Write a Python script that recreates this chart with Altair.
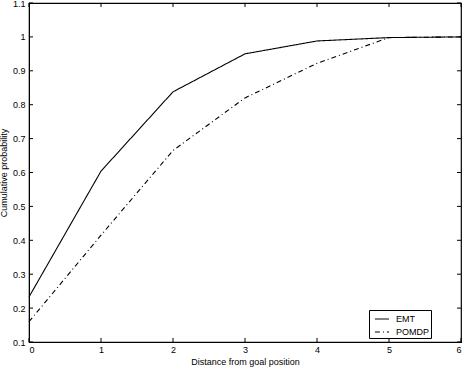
import altair as alt
import pandas as pd

distance = [0, 1, 2, 3, 4, 5, 6]
emt = [0.233, 0.604, 0.838, 0.95, 0.988, 0.998, 1.0]
pomdp = [0.16, 0.415, 0.665, 0.82, 0.922, 0.998, 1.0]
series_names = ["EMT", "POMDP"]
x_ticks = [0, 1, 2, 3, 4, 5, 6]
y_ticks = [0.1, 0.2, 0.3, 0.4, 0.5, 0.6, 0.7, 0.8, 0.9, 1.0, 1.1]

rows = []
for d, a, b in zip(distance, emt, pomdp):
    rows.append({"x": d, "y": a, "series": series_names[0]})
    rows.append({"x": d, "y": b, "series": series_names[1]})
df = pd.DataFrame(rows)

FONT = "Liberation Sans"
W, H = 432, 339

xscale = alt.Scale(domain=[0, 6], nice=False, zero=False)
yscale = alt.Scale(domain=[0.1, 1.1], nice=False, zero=False)

xaxis = alt.Axis(title="Distance from goal position", values=x_ticks,
                 tickSize=0, labelPadding=3, domainColor="black",
                 labelFontSize=9, titleFontSize=9, titleFontWeight="normal",
                 titlePadding=3, labelColor="black", titleColor="black",
                 grid=False, labelFont=FONT, titleFont=FONT, format="d",
                 labelOverlap=False)
yaxis = alt.Axis(title="Cumulative probability", values=y_ticks,
                 tickSize=0, labelPadding=4, domainColor="black",
                 labelFontSize=9, titleFontSize=9, titleFontWeight="normal",
                 titlePadding=4, labelColor="black", titleColor="black",
                 grid=False, labelFont=FONT, titleFont=FONT, format="~g",
                 labelOverlap=False, labelBound=False, labelFlush=False)

lines = alt.Chart(df).mark_line(color="black", strokeWidth=1.1).encode(
    x=alt.X("x:Q", scale=xscale, axis=xaxis),
    y=alt.Y("y:Q", scale=yscale, axis=yaxis),
    strokeDash=alt.StrokeDash("series:N",
        scale=alt.Scale(domain=series_names, range=[[1, 0], [5, 3, 1, 3]]),
        legend=alt.Legend(title=None, orient="none", legendX=340, legendY=307,
                          strokeColor="black", fillColor="white", padding=1,
                          symbolType="stroke", symbolStrokeColor="black",
                          symbolStrokeWidth=1, symbolSize=200,
                          labelFontSize=9, labelFont=FONT, labelColor="black",
                          rowPadding=0, labelOffset=6, symbolOffset=4,
                          labelLimit=60)),
)

xt = pd.DataFrame({"x": x_ticks})
yt = pd.DataFrame({"y": y_ticks})

bottom_ticks = alt.Chart(xt).mark_rule(color="black", strokeWidth=1).encode(
    x=alt.X("x:Q", scale=xscale, axis=xaxis), y=alt.value(H), y2=alt.value(H - 4))
top_ticks = alt.Chart(xt).mark_rule(color="black", strokeWidth=1).encode(
    x=alt.X("x:Q", scale=xscale, axis=xaxis), y=alt.value(0), y2=alt.value(4))
left_ticks = alt.Chart(yt).mark_rule(color="black", strokeWidth=1).encode(
    y=alt.Y("y:Q", scale=yscale, axis=yaxis), x=alt.value(0), x2=alt.value(4))
right_ticks = alt.Chart(yt).mark_rule(color="black", strokeWidth=1).encode(
    y=alt.Y("y:Q", scale=yscale, axis=yaxis), x=alt.value(W), x2=alt.value(W - 4))

chart = alt.layer(lines, bottom_ticks, top_ticks, left_ticks, right_ticks).properties(
    width=W, height=H,
    autosize=alt.AutoSizeParams(type="none"),
    padding={"left": 29, "top": 3, "right": 7, "bottom": 28},
    background="white",
).configure_view(stroke="black", strokeWidth=1.2).configure_axis(labelOverlap=False)

chart.save("out.html", embed_options={"renderer": "svg", "actions": False})
